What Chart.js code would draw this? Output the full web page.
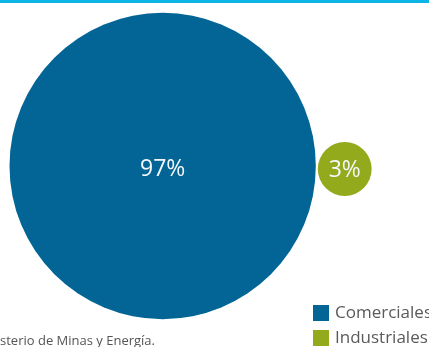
<!DOCTYPE html>
<html>
<head>
<meta charset="utf-8">
<script src="https://cdn.jsdelivr.net/npm/chart.js@4"></script>
<style>
    html, body { margin: 0; padding: 0; background: #fff; }
    #wrap { width: 429px; height: 344px; border-top: 3px solid #0cb5e6; position: relative; }
</style>
</head>
<body>
<div id="wrap"><canvas id="bubbleChart" width="429" height="344"></canvas></div>
<script>
// chart values
const categories = ['Comerciales', 'Industriales'];
const shares = [97, 3];
const sourceNote = 'Fuente: Ministerio de Minas y Energía.';

const colors = ['#026596', '#93aa1c'];

// layout helpers (pixels)
const W = 429, H = 344;
const radiusScale = 15.55;     // px per sqrt(percent)
const leftMargin = 9.5;
const bubbleGap = 2;
const centerY = [163, 166];

function buildPoints() {
    const radii = shares.map(v => Math.sqrt(v) * radiusScale);
    const points = [];
    let cursor = leftMargin;
    radii.forEach((r, i) => {
        points.push({ x: cursor + r, y: centerY[i], r: r, v: shares[i] });
        cursor += 2 * r + bubbleGap;
    });
    return points;
}

const labelPlugin = {
    id: 'labels',
    afterDatasetsDraw(chart) {
        const ctx = chart.ctx;
        const meta = chart.getDatasetMeta(0);
        ctx.save();
        ctx.fillStyle = '#f4f8fb';
        ctx.textAlign = 'center';
        ctx.textBaseline = 'middle';
        ctx.font = '23px "Open Sans"';
        meta.data.forEach((pt, i) => {
            ctx.fillText(shares[i] + '%', pt.x, pt.y + (i === 0 ? 3 : 1));
        });

        // legend
        ctx.textAlign = 'left';
        ctx.textBaseline = 'middle';
        ctx.font = '17px "Open Sans"';
        categories.forEach((name, i) => {
            const top = 302 + i * 25;
            ctx.fillStyle = colors[i];
            ctx.fillRect(313, top, 16, 16);
            ctx.fillStyle = '#5a5a5a';
            ctx.fillText(name, 335, top + 8);
        });

        // source note (cut off at left edge)
        ctx.font = '13px "Open Sans"';
        ctx.fillStyle = '#555';
        ctx.textAlign = 'right';
        ctx.textBaseline = 'alphabetic';
        ctx.fillText(sourceNote, 155, 342);
        ctx.restore();
    }
};

new Chart(document.getElementById('bubbleChart'), {
    type: 'bubble',
    data: {
        datasets: [{
            label: 'Participación',
            data: buildPoints(),
            backgroundColor: colors,
            borderWidth: 0,
            hoverBorderWidth: 0,
            clip: false
        }]
    },
    options: {
        responsive: false,
        animation: false,
        layout: { padding: 0, autoPadding: false },
        plugins: {
            legend: { display: false },
            tooltip: { enabled: false }
        },
        scales: {
            x: { type: 'linear', min: 0, max: W, display: false },
            y: { type: 'linear', min: 0, max: H, reverse: true, display: false }
        }
    },
    plugins: [labelPlugin]
});
</script>
</body>
</html>
